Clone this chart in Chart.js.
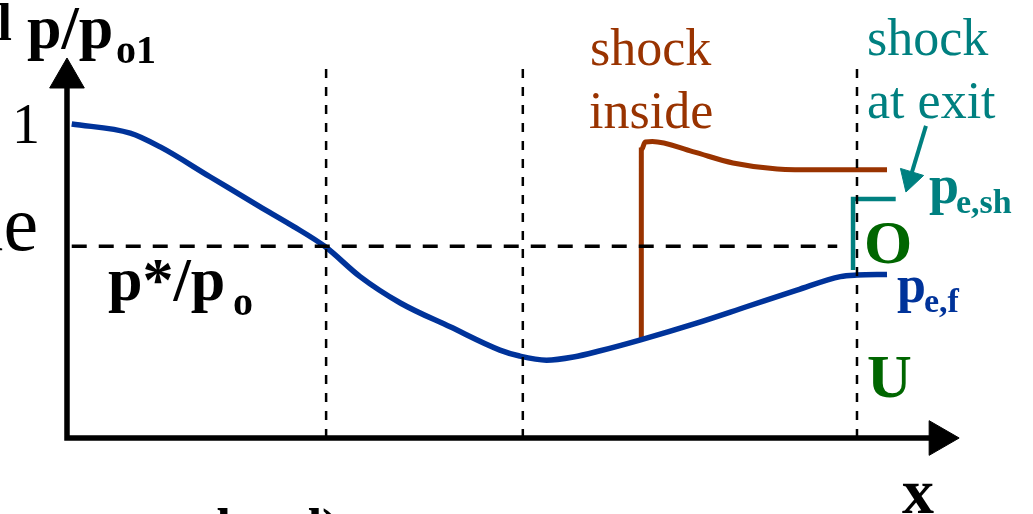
<!DOCTYPE html>
<html>
<head>
<meta charset="utf-8">
<script src="https://cdn.jsdelivr.net/npm/chart.js@4"></script>
<style>
    body { margin: 0; background: #fff; }
    canvas { display: block; }
</style>
</head>
<body>
<canvas id="graphique_tuyere" width="1033" height="514"></canvas>
<script>
// x = position along the nozzle (exit = 1), y = p/po1

// BLUE CURVE : fully supersonic flow
const bleuX = [0.006, 0.080, 0.118, 0.181, 0.244, 0.286, 0.327, 0.371, 0.422, 0.485, 0.548, 0.573, 0.607, 0.641, 0.675, 0.725, 0.797, 0.860, 0.924, 0.979, 1.000, 1.038];
const bleuY = [1.000, 0.971, 0.927, 0.832, 0.737, 0.675, 0.609, 0.514, 0.430, 0.354, 0.280, 0.261, 0.248, 0.258, 0.278, 0.312, 0.366, 0.418, 0.471, 0.514, 0.519, 0.521];

// BROWN CURVE : shock inside
const chocX = [0.727, 0.727, 0.732, 0.741, 0.792, 0.843, 0.899, 0.953, 1.038];
const chocY = [0.312, 0.917, 0.943, 0.944, 0.912, 0.876, 0.857, 0.854, 0.854];

// TEAL BRACKET : shock at exit
const sortieX = [0.995, 0.995, 1.049];
const sortieY = [0.535, 0.761, 0.761];

// GUIDES
const pEtoile = 0.611;
const gorgeX = [0.328, 0.577, 1.0];
const hautGuide = 1.204;

// AXES
const axeX = [0, 0, 1.10];
const axeY = [1.14, 0, 0];

// small helper
function pts(xs, ys) {
    return xs.map((x, i) => ({ x: x, y: ys[i] }));
}

const bleu = '#00339A';
const brun = '#993300';
const sarcelle = '#008080';
const vert = '#006600';

// TEXTES (positions in data units)
const textes = [
    { t: 'l', x: -0.0696, y: 1.2675, f: 'bold 52px "Liberation Serif"', c: '#000', a: 'right' },
    { t: 'p/p', x: -0.0506, y: 1.2420, f: 'bold 62px "Liberation Serif"', c: '#000' },
    { t: 'o1', x: 0.0620, y: 1.1943, f: 'bold 40px "Liberation Serif"', c: '#000' },
    { t: '1', x: -0.0696, y: 0.9395, f: '56px "Liberation Serif"', c: '#000' },
    { t: 'ue', x: -0.0367, y: 0.5987, f: '78px "Liberation Serif"', c: '#000', a: 'right' },
    { t: 'p*/p', x: 0.0519, y: 0.4395, f: 'bold 62px "Liberation Serif"', c: '#000' },
    { t: 'o', x: 0.2101, y: 0.3917, f: 'bold 40px "Liberation Serif"', c: '#000' },
    { t: 'shock', x: 0.6620, y: 1.1879, f: '52px "Liberation Serif"', c: brun },
    { t: 'inside', x: 0.6608, y: 0.9873, f: '52px "Liberation Serif"', c: brun },
    { t: 'shock', x: 1.0127, y: 1.2197, f: '52px "Liberation Serif"', c: sarcelle },
    { t: 'at exit', x: 1.0127, y: 1.0191, f: '52px "Liberation Serif"', c: sarcelle },
    { t: 'p', x: 1.0911, y: 0.7484, f: 'bold 54px "Liberation Serif"', c: sarcelle },
    { t: 'e,sh', x: 1.1253, y: 0.7166, f: 'bold 34px "Liberation Serif"', c: sarcelle },
    { t: 'O', x: 1.0089, y: 0.5573, f: 'bold 62px "Liberation Serif"', c: vert },
    { t: 'p', x: 1.0506, y: 0.4331, f: 'bold 52px "Liberation Serif"', c: bleu },
    { t: 'e,f', x: 1.0848, y: 0.4013, f: 'bold 34px "Liberation Serif"', c: bleu },
    { t: 'U', x: 1.0127, y: 0.1306, f: 'bold 62px "Liberation Serif"', c: vert },
    { t: 'x', x: 1.0570, y: -0.2389, f: 'bold 64px "Liberation Serif"', c: '#000' },
    { t: 'b', x: 0.1899, y: -0.3408, f: 'bold 52px "Liberation Serif"', c: '#000' },
    { t: 'd)', x: 0.2861, y: -0.3408, f: 'bold 52px "Liberation Serif"', c: '#000' }
];

const pluginTextes = {
    id: 'textes',
    afterDatasetsDraw(chart) {
        const ctx = chart.ctx;
        const sx = chart.scales.x;
        const sy = chart.scales.y;
        ctx.save();
        ctx.textBaseline = 'alphabetic';
        textes.forEach(el => {
            ctx.font = el.f;
            ctx.fillStyle = el.c;
            ctx.textAlign = el.a || 'left';
            ctx.fillText(el.t, sx.getPixelForValue(el.x), sy.getPixelForValue(el.y));
        });
        ctx.restore();
    }
};

function ligne(data, couleur, largeur, extra) {
    return Object.assign({
        data: data,
        showLine: true,
        borderColor: couleur,
        backgroundColor: couleur,
        borderWidth: largeur,
        pointRadius: 0,
        tension: 0,
        clip: false
    }, extra || {});
}

const datasets = [];

// dashed guides
gorgeX.forEach(gx => {
    datasets.push(ligne([{ x: gx, y: 0 }, { x: gx, y: hautGuide }], '#000', 2.5, { borderDash: [9, 9] }));
});
datasets.push(ligne([{ x: 0.006, y: pEtoile }, { x: 0.975, y: pEtoile }], '#000', 3.5, { borderDash: [15, 12] }));

// curves
datasets.push(ligne(pts(bleuX, bleuY), bleu, 5.5, { cubicInterpolationMode: 'monotone' }));
datasets.push(ligne(pts(chocX, chocY), brun, 5, { cubicInterpolationMode: 'monotone' }));
datasets.push(ligne(pts(sortieX, sortieY), sarcelle, 4.5, { borderJoinStyle: 'miter' }));

// teal arrow
datasets.push(ligne([{ x: 1.0873, y: 0.994 }, { x: 1.0671, y: 0.826 }], sarcelle, 4));
datasets.push({
    data: [{ x: 1.0671, y: 0.826 }],
    pointStyle: 'triangle', pointRadius: 14, pointRotation: 196.9,
    backgroundColor: sarcelle, borderColor: sarcelle, borderWidth: 1, clip: false
});

// axes + arrow heads
datasets.push(ligne(pts(axeX, axeY), '#000', 5.5, { borderJoinStyle: 'miter' }));
datasets.push({
    data: [{ x: 0, y: 1.1465 }],
    pointStyle: 'triangle', pointRadius: 20, pointRotation: 0,
    backgroundColor: '#000', borderColor: '#000', borderWidth: 1, clip: false
});
datasets.push({
    data: [{ x: 1.104, y: 0 }],
    pointStyle: 'triangle', pointRadius: 20, pointRotation: 90,
    backgroundColor: '#000', borderColor: '#000', borderWidth: 1, clip: false
});

new Chart(document.getElementById('graphique_tuyere').getContext('2d'), {
    type: 'scatter',
    data: { datasets: datasets },
    options: {
        responsive: false,
        animation: false,
        layout: { padding: 0, autoPadding: false },
        plugins: {
            legend: { display: false },
            tooltip: { enabled: false }
        },
        scales: {
            x: { type: 'linear', display: false, min: -0.0848, max: 1.2228 },
            y: { type: 'linear', display: false, min: -0.2420, max: 1.3949 }
        }
    },
    plugins: [pluginTextes]
});
</script>
</body>
</html>
